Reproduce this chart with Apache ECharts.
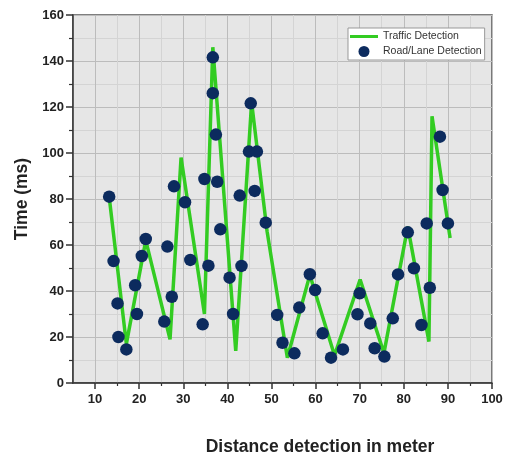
<!DOCTYPE html>
<html>
<head>
<meta charset="utf-8">
<script src="https://cdn.jsdelivr.net/npm/echarts@6/dist/echarts.min.js"></script>
<style>
html, body { margin: 0; padding: 0; background: #fff; }
#chart { width: 506px; height: 462px; }
</style>
</head>
<body>
<div id="chart"></div>
<script>
// Traffic Detection (green line vertices)
var trafficX = [13.2, 17.1, 21.5, 27.0, 29.5, 34.8, 36.7, 41.9, 45.5, 49.0, 53.6, 58.7, 64.3, 70.1, 75.5, 80.9, 85.7, 86.4, 90.5];
var trafficY = [81, 17, 62, 19, 98, 30, 146, 14, 122, 66, 11, 47, 12, 45, 13, 68, 18, 116, 63];

// Road/Lane Detection (dots)
var laneX = [13.2, 14.2, 15.1, 15.3, 17.1, 19.1, 19.5, 20.6, 21.5, 25.7, 26.4, 27.4, 27.9, 30.4, 31.6, 34.4, 34.8, 35.7,
	36.7, 36.7, 37.4, 37.7, 38.4, 40.5, 41.3, 42.8, 43.2, 44.9, 45.3, 46.2, 46.7, 48.7, 51.3, 52.5, 55.2, 56.3,
	58.7, 59.9, 61.6, 63.5, 66.2, 69.5, 70.0, 72.4, 73.4, 75.6, 77.5, 78.7, 80.9, 82.3, 84.0, 85.2, 85.9, 88.2, 88.8, 90.0];
var laneY = [81, 53, 34.6, 20, 14.6, 42.5, 30, 55.2, 62.6, 26.7, 59.3, 37.5, 85.5, 78.6, 53.5, 25.5, 88.7, 51,
	141.6, 126, 108, 87.5, 66.8, 45.8, 30, 81.5, 50.9, 100.6, 121.6, 83.5, 100.6, 69.7, 29.6, 17.5, 12.9, 32.8,
	47.3, 40.4, 21.6, 11, 14.6, 29.9, 39, 25.9, 15.1, 11.5, 28.1, 47.2, 65.5, 49.9, 25.2, 69.4, 41.4, 107.1, 83.9, 69.4];

var xMajorTicks = [10, 20, 30, 40, 50, 60, 70, 80, 90, 100];
var xMinorTicks = [15, 25, 35, 45, 55, 65, 75, 85, 95];

function pairs(xs, ys){
	var out = [];
	for(var i = 0; i < xs.length; i++){
		out.push([xs[i], ys[i]]);
	}
	return out;
}

var font = 'Liberation Sans, Arial, sans-serif';
var chart = echarts.init(document.getElementById('chart'));

var option = {
	animation: false,
	grid: {
		left: 73, right: 14, top: 15, bottom: 79,
		show: true,
		backgroundColor: '#e6e6e6',
		borderColor: '#555',
		borderWidth: 1.5
	},
	legend: {
		left: 348, top: 28,
		orient: 'vertical',
		itemWidth: 28, itemHeight: 11, itemGap: 4,
		padding: [3, 3, 3, 2],
		backgroundColor: '#fff',
		borderColor: '#999', borderWidth: 1,
		borderRadius: 0,
		textStyle: { fontFamily: font, fontSize: 10.5, color: '#333' },
		data: [
			{ name: 'Traffic Detection', icon: 'path://M0,0H28V3H0Z' },
			{ name: 'Road/Lane Detection', icon: 'circle' }
		]
	},
	xAxis: [
		{
			// grid lines every 5
			type: 'value', min: 5, max: 100, interval: 5,
			axisLine: { show: false }, axisTick: { show: false }, axisLabel: { show: false },
			splitLine: { show: true, lineStyle: { color: ['#d4d4d4', '#bcbcbc'], width: 1 } }
		},
		{
			type: 'value', min: 5, max: 100, position: 'bottom',
			name: 'Distance detection in meter',
			nameLocation: 'middle', nameGap: 55,
			nameTextStyle: { fontFamily: font, fontSize: 17.5, fontWeight: 'bold', color: '#222', padding: [0, 0, 0, 75] },
			axisLine: { show: true, lineStyle: { color: '#333', width: 1.5 } },
			axisTick: { show: true, customValues: xMajorTicks, length: 6, lineStyle: { color: '#333', width: 1.5 } },
			axisLabel: { show: true, customValues: xMajorTicks, margin: 10, fontFamily: font, fontSize: 13, fontWeight: 'bold', color: '#222' },
			splitLine: { show: false }
		},
		{
			type: 'value', min: 5, max: 100, position: 'bottom',
			axisLine: { show: false },
			axisTick: { show: true, customValues: xMinorTicks, length: 3, lineStyle: { color: '#333', width: 1.2 } },
			axisLabel: { show: false },
			splitLine: { show: false }
		}
	],
	yAxis: {
		type: 'value', min: 0, max: 160, interval: 20,
		name: 'Time (ms)',
		nameLocation: 'middle', nameGap: 40, nameRotate: 90,
		nameTextStyle: { fontFamily: font, fontSize: 17.5, fontWeight: 'bold', color: '#222' },
		axisLine: { show: true, lineStyle: { color: '#333', width: 1.5 } },
		axisTick: { show: true, length: 7, lineStyle: { color: '#333', width: 1.5 } },
		minorTick: { show: true, splitNumber: 2, length: 4, lineStyle: { color: '#333', width: 1.2 } },
		axisLabel: { margin: 9, fontFamily: font, fontSize: 13, fontWeight: 'bold', color: '#222' },
		splitLine: { show: true, lineStyle: { color: '#bcbcbc', width: 1 } },
		minorSplitLine: { show: true, lineStyle: { color: '#d4d4d4', width: 1 } }
	},
	series: [
		{
			name: 'Traffic Detection',
			type: 'line',
			xAxisIndex: 0,
			symbol: 'none',
			lineStyle: { color: '#33cc22', width: 3.5 },
			itemStyle: { color: '#33cc22' },
			z: 2,
			data: pairs(trafficX, trafficY)
		},
		{
			name: 'Road/Lane Detection',
			type: 'scatter',
			xAxisIndex: 0,
			symbolSize: 12.5,
			itemStyle: { color: '#0c2b5e', opacity: 1 },
			z: 3,
			data: pairs(laneX, laneY)
		}
	]
};
chart.setOption(option);
</script>
</body>
</html>
